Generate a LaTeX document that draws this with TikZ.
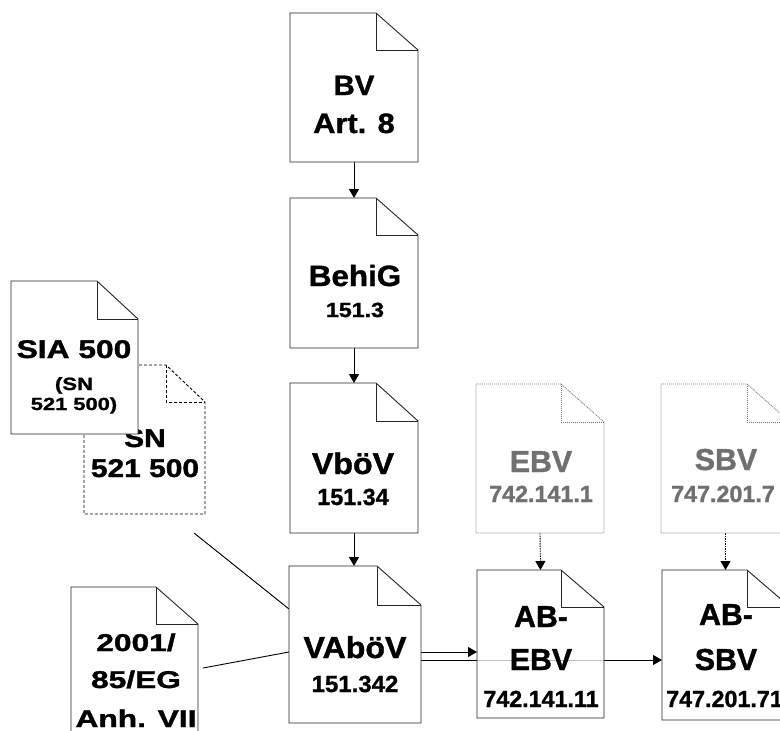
\documentclass[tikz,border=0pt]{standalone}
\usepackage{fontspec}
\setmainfont{Liberation Sans}
\newfontfamily\heavyfont{Liberation Sans Bold}[FakeBold=1.2]
\usetikzlibrary{arrows.meta}
\definecolor{dimtext}{RGB}{112,112,112}
\definecolor{dimline}{RGB}{115,115,115}
\newcommand\doctxt[3]{\scalebox{#2}[1]{\fontsize{#1}{#1}\heavyfont #3}}
\newcommand\docshape[4]{%
  \draw[#4] (#1.north west) -- ([xshift=-#2]#1.north east) -- ([yshift=-#3]#1.north east) -- (#1.south east) -- (#1.south west) -- cycle;
  \draw[#4,fill=none] ([xshift=-#2]#1.north east) -- ([xshift=-#2,yshift=-#3]#1.north east) -- ([yshift=-#3]#1.north east);
}
\tikzset{
  frame/.style={rectangle,inner sep=0pt,outer sep=0pt,draw=none},
  tl/.style={anchor=base,inner sep=0pt,outer sep=0pt},
  solid doc/.style={draw=black!85,line width=0.9pt,fill=white},
  dash doc/.style={draw=black,line width=0.9pt,fill=white,dash pattern=on 3pt off 2pt},
  dim doc/.style={draw=dimline,line width=0.8pt,fill=white,dash pattern=on 1pt off 1pt},
  conn/.style={draw=black,line width=0.9pt},
  arr/.style={conn,-{Triangle[length=9pt,width=10pt]}},
  dotarr/.style={draw=black,line width=0.9pt,dash pattern=on 1.5pt off 1pt,-{Triangle[length=9pt,width=10pt]}},
}
\begin{document}
\begin{tikzpicture}[x=1pt,y=-1pt]
\useasboundingbox (0,0) rectangle (780,731);
\clip (0,0) rectangle (780,731);
\fill[white] (0,0) rectangle (780,731);

% frames
\node[frame,minimum width=128pt,minimum height=149pt] (bv) at (354,87.5) {};
\node[frame,minimum width=128pt,minimum height=150pt] (behig) at (354,273) {};
\node[frame,minimum width=128pt,minimum height=150pt] (vboev) at (354,458) {};
\node[frame,minimum width=132pt,minimum height=157pt] (vab) at (355,644.5) {};
\node[frame,minimum width=128pt,minimum height=149pt] (ebv) at (540,458.5) {};
\node[frame,minimum width=127pt,minimum height=148pt] (abebv) at (540.5,644) {};
\node[frame,minimum width=129pt,minimum height=149pt] (sbv) at (725.5,458.5) {};
\node[frame,minimum width=128pt,minimum height=150pt] (absbv) at (726,645) {};
\node[frame,minimum width=127pt,minimum height=153pt] (sia) at (74.5,357.5) {};
\node[frame,minimum width=121pt,minimum height=149pt] (sn) at (144.5,439.5) {};
\node[frame,minimum width=127pt,minimum height=152pt] (eg) at (134.5,663) {};

% connectors
\draw[arr] (bv.south) -- (behig.north);
\draw[arr] (behig.south) -- (vboev.north);
\draw[arr] (vboev.south) -- (vboev.south |- vab.north);
\draw[dotarr] (ebv.south) -- (abebv.north);
\draw[dotarr] (sbv.south) -- (sbv.south |- absbv.north);
\coordinate (p1) at ([yshift=-7.5pt]vab.east);
\coordinate (p2) at ([yshift=-15.5pt]vab.east);
\draw[arr] (p1) -- (p1 -| abebv.west);
\draw[arr] (p2) -- (p2 -| absbv.west);
\coordinate (lfree) at (194,533);
\draw[conn] (lfree) -- ([yshift=35.5pt]vab.west);
\draw[conn] ([xshift=5pt,yshift=-5pt]eg.east) -- ([yshift=-7.5pt]vab.west);

% documents
\docshape{bv}{42pt}{37pt}{solid doc}
\docshape{behig}{42pt}{37pt}{solid doc}
\docshape{vboev}{42pt}{38pt}{solid doc}
\docshape{vab}{44pt}{39pt}{solid doc}
\docshape{ebv}{43pt}{38pt}{dim doc}
\docshape{abebv}{43pt}{37pt}{solid doc,fill opacity=0.75}
\docshape{sbv}{43pt}{38pt}{dim doc}
\docshape{absbv}{43pt}{37pt}{solid doc}
\docshape{eg}{42pt}{37pt}{solid doc}
\docshape{sn}{39pt}{37pt}{dash doc}
\node[tl] (sn1) at (145,447) {\doctxt{25.6}{1.17}{SN}};
\node[tl] (sn2) at (145,477) {\doctxt{25.6}{1.17}{521 500}};
\docshape{sia}{41pt}{38pt}{solid doc}

% texts
\node[tl] (bv1) at (354,95) {\doctxt{28}{1.05}{BV}};
\node[tl] (bv2) at (354,133) {\doctxt{28}{1.1}{Art. 8}};
\node[tl] (behig1) at (355,286) {\doctxt{29.3}{1.07}{BehiG}};
\node[tl] (behig2) at (355,317) {\doctxt{20.5}{1.13}{151.3}};
\node[tl] (vboev1) at (353,474) {\doctxt{30}{1.07}{VböV}};
\node[tl] (vboev2) at (353,505) {\doctxt{23.3}{1.0}{151.34}};
\node[tl] (vab1) at (355,658) {\doctxt{30.3}{1.06}{VAböV}};
\node[tl] (vab2) at (355,692) {\doctxt{23.3}{1.03}{151.342}};
\node[tl] (sia1) at (74,358) {\doctxt{25.6}{1.24}{SIA 500}};
\node[tl] (sia2) at (74,390) {\doctxt{17.7}{1.25}{(SN}};
\node[tl] (sia3) at (74,410) {\doctxt{17.5}{1.25}{521 500)}};
\node[tl] (eg1) at (136,651) {\doctxt{24.2}{1.31}{2001/}};
\node[tl] (eg2) at (136,688) {\doctxt{24.2}{1.31}{85/EG}};
\node[tl] (eg3) at (136,727) {\doctxt{24.2}{1.31}{Anh. VII}};
\node[tl,text=dimtext] (ebv1) at (541,472) {\doctxt{30.3}{1.0}{EBV}};
\node[tl,text=dimtext] (ebv2) at (541,502) {\doctxt{23.3}{1.0}{742.141.1}};
\node[tl] (abebv1) at (541,627) {\doctxt{30.3}{1.0}{AB-}};
\node[tl] (abebv2) at (541,670) {\doctxt{30.3}{1.0}{EBV}};
\node[tl] (abebv3) at (541,707) {\doctxt{23.3}{1.0}{742.141.11}};
\node[tl,text=dimtext] (sbv1) at (726,470) {\doctxt{30.3}{1.0}{SBV}};
\node[tl,text=dimtext] (sbv2) at (723,502) {\doctxt{23.3}{1.0}{747.201.7}};
\node[tl] (absbv1) at (726,625) {\doctxt{30.3}{1.0}{AB-}};
\node[tl] (absbv2) at (726,670) {\doctxt{30.3}{1.0}{SBV}};
\node[tl] (absbv3) at (724.5,707) {\doctxt{23.3}{1.0}{747.201.71}};
\end{tikzpicture}
\end{document}
